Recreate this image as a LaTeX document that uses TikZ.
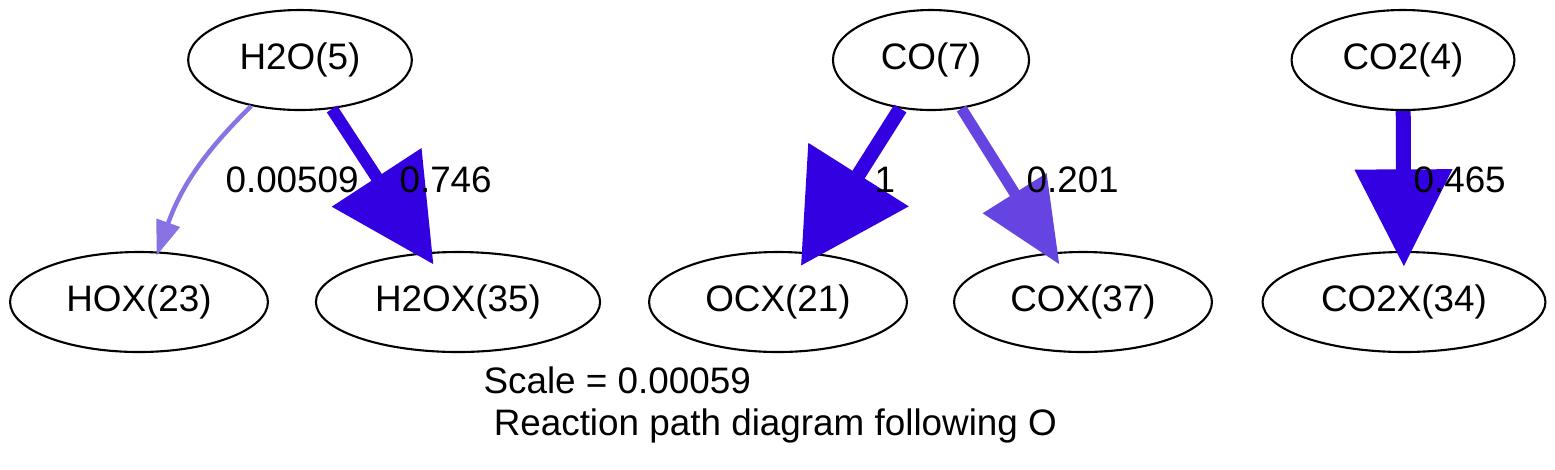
\documentclass[tikz,border=0pt]{standalone}
\usepackage{fontspec}
\setmainfont{Liberation Sans}
\usetikzlibrary{shapes.geometric,arrows.meta}
\definecolor{fort}{RGB}{51,0,226}
\definecolor{moyen}{RGB}{102,68,226}
\definecolor{faible}{RGB}{137,114,228}
\tikzset{
    espece/.style={draw,ellipse,line width=0.8pt,inner sep=0pt,minimum height=38pt,font=\fontsize{14pt}{16.8pt}\selectfont},
    valeur/.style={anchor=base west,inner sep=0pt,font=\fontsize{14pt}{16.8pt}\selectfont},
  }

\begin{document}
\begin{tikzpicture}[x=0.38pt,y=-0.38pt]
				  \useasboundingbox (0,0) rectangle (1555,469);

				   %ESPECES GAZ
				  \node[espece,minimum width=85pt] (H2O) at (300,60) {H2O(5)};
				  \node[espece,minimum width=74.5pt] (CO) at (931,60) {CO(7)};
				  \node[espece,minimum width=84.7pt] (CO2) at (1403,60) {CO2(4)};

				   %ESPECES SURFACE
				  \node[espece,minimum width=98pt] (HOX) at (139,302) {HOX(23)};
				  \node[espece,minimum width=108pt] (H2OX) at (458,302) {H2OX(35)};
				  \node[espece,minimum width=98pt] (OCX) at (778,302) {OCX(21)};
				  \node[espece,minimum width=98pt] (COX) at (1083,302) {COX(37)};
				  \node[espece,minimum width=107.5pt] (CO2X) at (1404,302) {CO2X(34)};

				   %FLUX
				  \draw[faible,line width=1.7pt,shorten >=-1.7pt,-{Triangle[length=13.3pt,width=9.1pt]}] (H2O) to[bend right=13] (HOX);
				  \draw[fort,line width=4.7pt,shorten >=-5.5pt,-{Triangle[length=39.5pt,width=39.5pt]}] (H2O) -- (H2OX);
				  \draw[fort,line width=5.5pt,shorten >=-6pt,-{Triangle[length=41pt,width=43.7pt]}] (CO) -- (OCX);
				  \draw[moyen,line width=4.2pt,shorten >=-5.4pt,-{Triangle[length=32pt,width=27.5pt]}] (CO) -- (COX);
				  \draw[fort,line width=5.7pt,shorten >=-6pt,-{Triangle[length=37pt,width=35.7pt]}] (CO2) -- (CO2X);

				   %VALEURS
				  \node[valeur] (v1) at (225,192) {0.00509};
				  \node[valeur] (v2) at (399,192) {0.746};
				  \node[valeur] (v3) at (874,192) {1};
				  \node[valeur] (v4) at (1026,192) {0.201};
				  \node[valeur] (v5) at (1413,192) {0.465};

				   %LEGENDE
				  \node[valeur] (scale) at (483,393) {Scale = 0.00059};
				  \node[valeur] (titre) at (483,435) {\ Reaction path diagram following O};
				  \end{tikzpicture}
\end{document}
